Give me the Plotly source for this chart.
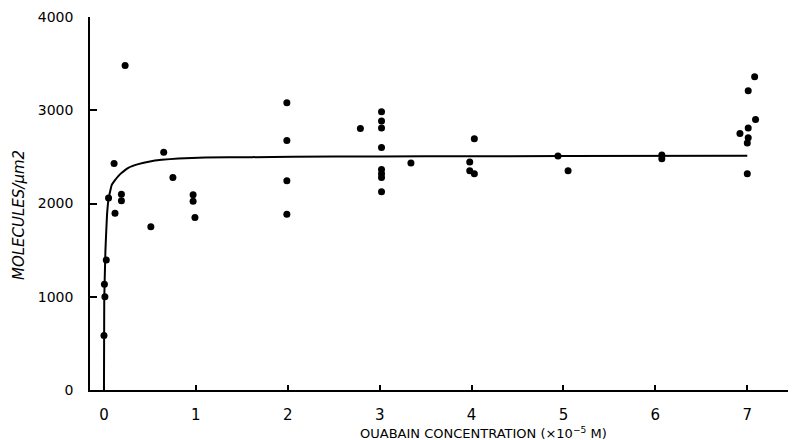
import plotly.graph_objects as go

# Measured points (ouabain concentration, x10^-5 M ; molecules per um^2)
conc = [0.23, 0.11, 0.65, 0.05, 0.19, 0.19, 0.12, 0.75, 0.51, 0.97, 0.97, 0.99,
        0.025, 0.005, 0.01, 0.0,
        1.99, 1.99, 1.99, 1.99,
        2.79,
        3.02, 3.02, 3.02, 3.02, 3.02, 3.02, 3.02, 3.02,
        3.34,
        4.03, 3.98, 3.98, 4.03,
        4.94, 5.05,
        6.07, 6.07,
        7.08, 7.01, 7.09, 7.01, 6.92, 7.01, 7.00, 7.00]
molecules = [3480, 2430, 2550, 2060, 2100, 2030, 1895, 2280, 1750, 2095, 2025, 1850,
             1395, 1135, 1000, 585,
             3080, 2675, 2245, 1885,
             2805,
             2985, 2885, 2810, 2600, 2365, 2320, 2280, 2125,
             2435,
             2695, 2445, 2350, 2320,
             2510, 2350,
             2520, 2480,
             3360, 3210, 2900, 2810, 2750, 2705, 2650, 2320]

# Fitted saturation curve
curve_conc = [0.0, 0.003, 0.016, 0.033, 0.051, 0.084, 0.12, 0.156, 0.193, 0.265,
              0.373, 0.5, 0.628, 0.81, 1.1, 1.6, 2.5, 3.5, 5.0, 7.0]
curve_molecules = [0, 965, 1500, 1875, 2058, 2197, 2250, 2294, 2329, 2383,
                   2422, 2451, 2468, 2483, 2494, 2497, 2503, 2506, 2509, 2512]

x_ticks = [0, 1, 2, 3, 4, 5, 6, 7]
y_ticks = [0, 1000, 2000, 3000, 4000]

FONT = "DejaVu Sans"

fig = go.Figure()
fig.add_trace(go.Scatter(
    x=curve_conc, y=curve_molecules, mode="lines",
    line=dict(color="black", width=2, shape="spline", smoothing=0.3),
    hoverinfo="skip"))
fig.add_trace(go.Scatter(
    x=conc, y=molecules, mode="markers",
    marker=dict(color="black", size=7), cliponaxis=False))

# the page adds an 8px body margin, so the figure is sized to fit 796x440
fig.update_layout(
    width=788, height=432,
    margin=dict(l=82, r=0, t=9, b=50),
    paper_bgcolor="white", plot_bgcolor="white",
    showlegend=False,
    font=dict(family=FONT, color="black"),
    xaxis=dict(range=[-0.152, 7.53], tickvals=x_ticks,
               ticktext=[str(v) for v in x_ticks],
               showline=True, linecolor="black", linewidth=1.5,
               ticks="inside", ticklen=5, tickwidth=1.5, tickcolor="black",
               showgrid=False, zeroline=False,
               tickfont=dict(size=15, family=FONT), ticklabelstandoff=10),
    yaxis=dict(range=[0, 4000], tickvals=y_ticks,
               ticktext=[str(v) for v in y_ticks],
               showline=True, linecolor="black", linewidth=1.5,
               ticks="inside", ticklen=7, tickwidth=1.5, tickcolor="black",
               showgrid=False, zeroline=False,
               tickfont=dict(size=14, family=FONT), ticklabelstandoff=12),
    annotations=[
        dict(text="OUABAIN CONCENTRATION (×10<sup>−5</sup> M)",
             xref="paper", yref="paper", x=0.557, y=-0.115,
             xanchor="center", yanchor="middle", showarrow=False,
             font=dict(size=13, family=FONT)),
        dict(text="<i>MOLECULES/μm2</i>",
             xref="paper", yref="paper", x=-0.1006, y=0.469,
             xanchor="center", yanchor="middle", showarrow=False,
             textangle=-90, font=dict(size=15, family=FONT)),
    ],
)

fig.write_html("out.html")
